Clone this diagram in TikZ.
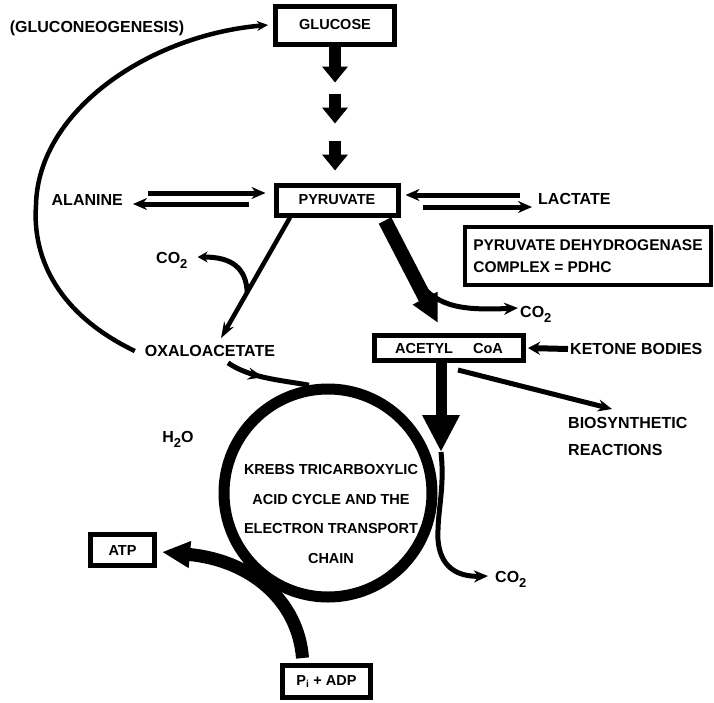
\documentclass[tikz,border=0pt]{standalone}
\usepackage{fontspec}
\setmainfont{Liberation Sans}
\usetikzlibrary{arrows.meta, calc, decorations.markings}

\newcommand{\subtxt}[1]{\raisebox{-5pt}{\fontsize{13}{13}\selectfont #1}}

\tikzset{
    box/.style={draw, line width=5pt, inner sep=0pt, font=\fontsize{14.5}{16}\selectfont\bfseries},
    lbl/.style={inner sep=0pt, font=\fontsize{16}{18}\selectfont\bfseries},
    thinarrow/.style={line width=5pt, -{Stealth[length=14pt,width=12pt]}},
    fatarrow/.style={line width=12pt, -{Triangle[length=16pt,width=25pt]}},
}

\begin{document}
        \begin{tikzpicture}[x=1pt, y=-1pt]
            \path[use as bounding box, fill=white] (0,0) rectangle (714,702);
            %\draw[help lines] (0,0) grid[step=50] (714,702);
            \node[box, minimum width=119pt, minimum height=38pt] (glu) at (335,25) {GLUCOSE};
            \node[box, minimum width=122pt, minimum height=30pt] (pyr) at (337,200) {PYRUVATE};
            \node[box, minimum width=149pt, minimum height=25pt] (acet) at (449,348) {ACETYL\hspace{20pt}CoA};
            \node[box, line width=4pt, minimum width=246pt, minimum height=58pt, align=left,
                font=\fontsize{15.5}{22}\selectfont\bfseries] (pdhc) at (588,256) {PYRUVATE DEHYDROGENASE\\COMPLEX = PDHC};
            \node[box, minimum width=64pt, minimum height=31pt] (atp) at (122.5,550) {ATP};
            \node[box, minimum width=88pt, minimum height=32pt] (pad) at (326.5,681.5) {P\textsubscript{i} + ADP};
            \node[circle, draw, line width=11pt, minimum size=208pt, inner sep=0pt] (tca) at (328,493) {};
            \node[align=center, font=\fontsize{14.5}{29.5}\selectfont\bfseries] (krebs) at ($(tca.center)+(3,21)$)
                {KREBS TRICARBOXYLIC\\ACID CYCLE AND THE\\ELECTRON TRANSPORT\\CHAIN};

            \node[lbl] (gneo) at (97,28) {(GLUCONEOGENESIS)};
            \node[lbl, anchor=east] (ala) at (123,200) {ALANINE};
            \node[lbl, anchor=west] (lac) at (538,199) {LACTATE};
            \node[lbl] (oxa) at (210,351) {OXALOACETATE};
            \node[lbl, anchor=west] (ket) at (570,349) {KETONE BODIES};
            \node[lbl, anchor=north west, align=left, font=\fontsize{16}{27}\selectfont\bfseries] (bio) at (568,417) {BIOSYNTHETIC\\REACTIONS};
            \node[lbl] (h2o) at (178,439) {H\subtxt{2}O};
            \node[lbl, anchor=west] (co2a) at (156,260) {CO\subtxt{2}};
            \node[lbl, anchor=west] (co2b) at (520,314) {CO\subtxt{2}};
            \node[lbl, anchor=west] (co2c) at (495,579) {CO\subtxt{2}};

            \foreach \a/\b in {0/36, 47/77, 94/124}
                \draw[fatarrow] ([yshift=-\a pt]glu.south) -- ([yshift=-\b pt]glu.south);

            \draw[thinarrow] ([shift={(25,-7)}]ala.east) -- ([shift={(-8,-7)}]pyr.west);
            \draw[thinarrow] ([shift={(-25,4)}]pyr.west) -- ([shift={(10,4)}]ala.east);
            \draw[thinarrow] ([shift={(-18,-4)}]lac.west) -- ([shift={(5,-5)}]pyr.east);
            \draw[thinarrow] ([shift={(22,7)}]pyr.east) -- ([shift={(-6,8)}]lac.west);

            \draw[line width=4.5pt, -{Stealth[length=11pt,width=10pt]}] ([xshift=-10pt]oxa.west)
                .. controls (60,315) and (32,260) .. (36,205)
                .. controls (38,110) and (150,35) .. ([xshift=-5pt]glu.west);

            \draw[line width=4.5pt, -{Stealth[length=16pt,width=11pt]}] ([xshift=-47pt]pyr.south)
                -- coordinate[pos=0.62] (j1) ([shift={(11,-7)}]oxa.north);
            \draw[thinarrow, -{Stealth[length=10pt,width=11pt]}] (j1) .. controls (246,268) and (232,257) .. ([shift={(10,-3)}]co2a.east);

            \draw[line width=14pt, -{Triangle[length=28pt,width=26pt]}] ([shift={(48,3)}]pyr.south)
                -- coordinate[pos=0.55] (j2) ([shift={(-11,-10)}]acet.north);
            \draw[thinarrow] (j2) .. controls (435,305) and (455,311) .. ([shift={(-2,-6)}]co2b.west);

            \draw[thinarrow, -] ([shift={(18,6)}]oxa.south) .. controls (250,378) and (280,380) .. (tca.100)
                [postaction={decorate}, decoration={markings, mark=at position 0.45 with {\arrow{Stealth[length=15pt,width=12pt]}}}];

            \coordinate (cin) at (441,452);
            \draw[line width=11pt, -{Triangle[length=37pt,width=35pt]}] ([xshift=-8pt]acet.south) -- (cin);
            \draw[thinarrow] (cin) .. controls (445,490) and (437,510) .. (438,540)
                .. controls (440,565) and (455,577) .. ([shift={(-7,-3)}]co2c.west);

            \draw[thinarrow] ([shift={(9,7)}]acet.south) -- ([shift={(44,-8)}]bio.north west);
            \draw[line width=6pt, -{Stealth[length=12pt,width=13pt]}] ([xshift=-2pt]ket.west) -- ([xshift=2pt]acet.east);

            \draw[line width=13pt, -{Triangle[length=28pt,width=25pt]}] ([shift={(-24,-5)}]pad.north)
                .. controls (298,600) and (250,560) .. ([shift={(5,2)}]atp.east);
        \end{tikzpicture}
\end{document}
